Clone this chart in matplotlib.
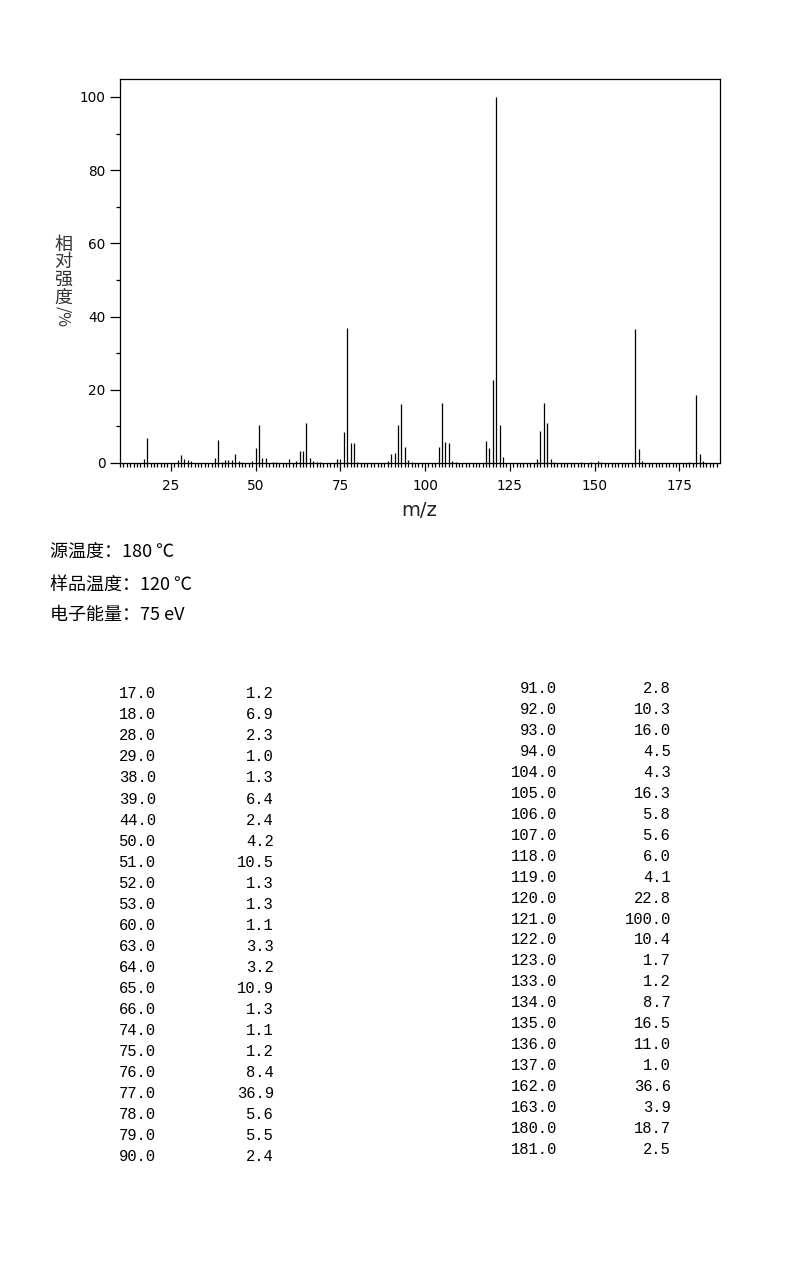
import matplotlib
matplotlib.use("Agg")
import matplotlib.pyplot as plt
from matplotlib.ticker import MultipleLocator, FixedLocator

# ---- data (from the peak table) ----
mz_left = [17.0, 18.0, 28.0, 29.0, 38.0, 39.0, 44.0, 50.0, 51.0, 52.0, 53.0, 60.0,
           63.0, 64.0, 65.0, 66.0, 74.0, 75.0, 76.0, 77.0, 78.0, 79.0, 90.0]
int_left = [1.2, 6.9, 2.3, 1.0, 1.3, 6.4, 2.4, 4.2, 10.5, 1.3, 1.3, 1.1,
            3.3, 3.2, 10.9, 1.3, 1.1, 1.2, 8.4, 36.9, 5.6, 5.5, 2.4]
mz_right = [91.0, 92.0, 93.0, 94.0, 104.0, 105.0, 106.0, 107.0, 118.0, 119.0, 120.0, 121.0,
            122.0, 123.0, 133.0, 134.0, 135.0, 136.0, 137.0, 162.0, 163.0, 180.0, 181.0]
int_right = [2.8, 10.3, 16.0, 4.5, 4.3, 16.3, 5.8, 5.6, 6.0, 4.1, 22.8, 100.0,
             10.4, 1.7, 1.2, 8.7, 16.5, 11.0, 1.0, 36.6, 3.9, 18.7, 2.5]
# small peaks (<1 %) visible in the spectrum but not listed in the table (estimated)
mz_minor = [27, 30, 31, 40, 41, 42, 43, 45, 46, 49, 55, 56, 62, 67, 68, 69, 80, 89,
            95, 96, 108, 109, 138, 146, 149, 151, 152, 164, 178, 182]
int_minor = [0.7, 0.7, 0.5, 0.4, 0.7, 0.7, 0.8, 0.5, 0.3, 0.5, 0.3, 0.3, 0.6, 0.5, 0.3, 0.3, 0.3, 0.5,
             0.7, 0.4, 0.5, 0.3, 0.4, 0.4, 0.4, 0.6, 0.3, 0.5, 0.4, 0.5]

info_lines = ["源温度：180 ℃", "样品温度：120 ℃", "电子能量：75 eV"]
ylabel_chars = ["相", "对", "强", "度"]
xticks_major = [25, 50, 75, 100, 125, 150, 175]

CJK = ["Noto Sans CJK SC", "DejaVu Sans"]
W, H = 794, 1276
fig = plt.figure(figsize=(W / 100, H / 100), dpi=100)

def fx(px):
    return px / W

def fy(py):
    return 1 - py / H

ax = fig.add_axes([fx(120), fy(463), fx(720) - fx(120), fy(79) - fy(463)])
ax.vlines(mz_left + mz_right, 0, int_left + int_right, color="black", lw=0.9)
ax.vlines(mz_minor, 0, int_minor, color="black", lw=0.9)
ax.set_xlim(10, 187)
ax.set_ylim(0, 104.9)
for s in ax.spines.values():
    s.set_linewidth(0.9)
    s.set_color("black")

ax.xaxis.set_major_locator(FixedLocator(xticks_major))
ax.xaxis.set_minor_locator(FixedLocator([v for v in range(10, 187) if v not in xticks_major]))
ax.yaxis.set_major_locator(MultipleLocator(20))
ax.yaxis.set_minor_locator(MultipleLocator(10))
ax.tick_params(axis="x", which="major", direction="out", length=5.5, width=0.9, pad=6, labelsize=9.8)
ax.tick_params(axis="x", which="minor", direction="out", length=3, width=0.9)
ax.tick_params(axis="y", which="major", direction="out", length=7.5, width=0.9, pad=3, labelsize=9.8)
ax.tick_params(axis="y", which="minor", direction="out", length=3, width=0.9)

# x label
fig.text(fx(419), fy(511), "m/z", ha="center", va="center", fontsize=14, color="#222222")

# y label (stacked characters)
ys = [245, 262, 280, 298]
for ch, yy in zip(ylabel_chars, ys):
    fig.text(fx(63), fy(yy), ch, ha="center", va="center", fontsize=13,
             family=CJK, color="#333333")
fig.text(fx(63), fy(316), "/%", ha="center", va="center", fontsize=11.5,
         rotation=-90, family=CJK, color="#333333")

# info lines
for line, yy in zip(info_lines, [552, 585, 615]):
    fig.text(fx(50), fy(yy), line, ha="left", va="center", fontsize=13, family=CJK, color="black")

# peak table
MONO = "Liberation Mono"
FS = 11.2
for i, (m, v) in enumerate(zip(mz_left, int_left)):
    yb = 698.3 + i * 21.05
    fig.text(fx(156), fy(yb), f"{m:.1f}", ha="right", va="baseline", fontsize=FS, family=MONO)
    fig.text(fx(274), fy(yb), f"{v:.1f}", ha="right", va="baseline", fontsize=FS, family=MONO)
for i, (m, v) in enumerate(zip(mz_right, int_right)):
    yb = 693.1 + i * 20.95
    fig.text(fx(557), fy(yb), f"{m:.1f}", ha="right", va="baseline", fontsize=FS, family=MONO)
    fig.text(fx(671), fy(yb), f"{v:.1f}", ha="right", va="baseline", fontsize=FS, family=MONO)

fig.savefig("out.png", dpi=100, facecolor="white")
